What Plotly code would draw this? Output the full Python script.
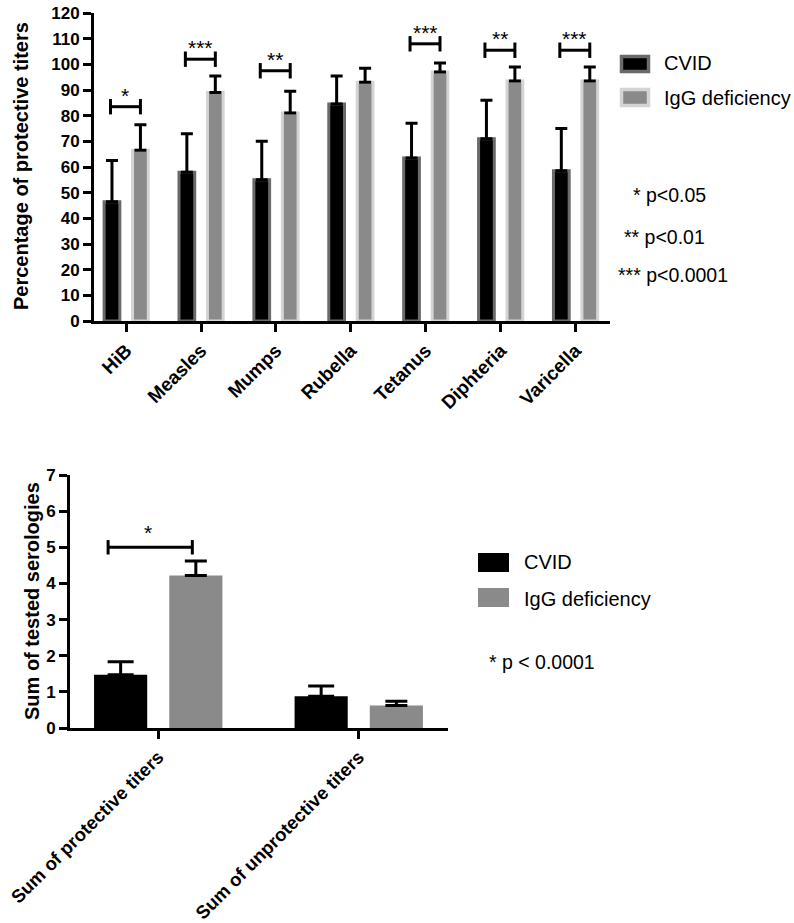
import plotly.graph_objects as go

# ---------------- data ----------------
vaccines = ["HiB", "Measles", "Mumps", "Rubella", "Tetanus", "Diphteria", "Varicella"]
cvid_pct = [46.5, 58, 55, 84.5, 63.5, 71, 58.5]
cvid_pct_err = [16, 15, 15, 11, 13.5, 15, 16.5]
igg_pct = [66.5, 89, 81, 93, 97, 93.5, 93.5]
igg_pct_err = [10, 6.5, 8.5, 5.5, 3.5, 5.5, 5.5]
sig_idx = [0, 1, 2, 4, 5, 6]
sig_height = [83.5, 102, 97.5, 108, 105.5, 105.5]
sig_label = ["*", "***", "**", "***", "**", "***"]
pval_notes = ["* p<0.05", "** p<0.01", "*** p<0.0001"]

sums = ["Sum of protective titers", "Sum of unprotective titers"]
cvid_sum = [1.47, 0.88]
cvid_sum_err = [0.36, 0.28]
igg_sum = [4.22, 0.62]
igg_sum_err = [0.4, 0.12]
sum_sig_idx = [0]
sum_sig_height = [5.0]
sum_sig_label = ["*"]
sum_note = "* p < 0.0001"

groups = ["CVID", "IgG deficiency"]

W, H = 794, 923
FONT = "Liberation Sans, Arial, sans-serif"
BLACK = "#000000"
GRAY = "#8a8a8a"


def px(x):
    return x / W


def py(y):
    return 1 - y / H


fig = go.Figure()

# ---------------- top chart ----------------
n = len(vaccines)
xi = list(range(n))
fig.add_trace(go.Bar(
    x=xi, y=cvid_pct, name=groups[0], width=0.21, offset=-0.295,
    marker=dict(color=BLACK, line=dict(color="#6a6a6a", width=3)),
    error_y=dict(type="data", array=cvid_pct_err, arrayminus=[0] * n, symmetric=False,
                 color=BLACK, thickness=3, width=6),
    xaxis="x", yaxis="y", showlegend=False))
fig.add_trace(go.Bar(
    x=xi, y=igg_pct, name=groups[1], width=0.21, offset=0.085,
    marker=dict(color=GRAY, line=dict(color="#d4d4d4", width=3)),
    error_y=dict(type="data", array=igg_pct_err, arrayminus=[0] * n, symmetric=False,
                 color=BLACK, thickness=3, width=6),
    xaxis="x", yaxis="y", showlegend=False))

bx, by = [], []
cap = 3.0
for i, h in zip(sig_idx, sig_height):
    l, r = i - 0.21, i + 0.19
    bx += [l, l, None, l, r, None, r, r, None]
    by += [h - cap, h + cap, None, h, h, None, h - cap, h + cap, None]
fig.add_trace(go.Scatter(x=bx, y=by, mode="lines", line=dict(color=BLACK, width=3),
                         xaxis="x", yaxis="y", showlegend=False, hoverinfo="skip"))
for i, h, s in zip(sig_idx, sig_height, sig_label):
    fig.add_annotation(x=i - 0.01, y=h, xref="x", yref="y", text=s, showarrow=False,
                       yanchor="bottom", yshift=-2, font=dict(family=FONT, size=21, color=BLACK))

# ---------------- bottom chart ----------------
m = len(sums)
xj = list(range(m))
fig.add_trace(go.Bar(
    x=xj, y=cvid_sum, name=groups[0], width=0.265, offset=-0.32,
    marker=dict(color=BLACK, line=dict(width=0)),
    error_y=dict(type="data", array=cvid_sum_err, arrayminus=[0] * m, symmetric=False,
                 color=BLACK, thickness=3, width=13),
    xaxis="x2", yaxis="y2", showlegend=False))
fig.add_trace(go.Bar(
    x=xj, y=igg_sum, name=groups[1], width=0.265, offset=0.055,
    marker=dict(color=GRAY, line=dict(width=0)),
    error_y=dict(type="data", array=igg_sum_err, arrayminus=[0] * m, symmetric=False,
                 color=BLACK, thickness=3, width=11),
    xaxis="x2", yaxis="y2", showlegend=False))

bx2, by2 = [], []
cap2 = 0.2
for i, h in zip(sum_sig_idx, sum_sig_height):
    l, r = i - 0.25, i + 0.17
    bx2 += [l, l, None, l, r, None, r, r, None]
    by2 += [h - cap2, h + cap2, None, h, h, None, h - cap2, h + cap2, None]
fig.add_trace(go.Scatter(x=bx2, y=by2, mode="lines", line=dict(color=BLACK, width=3),
                         xaxis="x2", yaxis="y2", showlegend=False, hoverinfo="skip"))
for i, h, s in zip(sum_sig_idx, sum_sig_height, sum_sig_label):
    fig.add_annotation(x=i - 0.05, y=h, xref="x2", yref="y2", text=s, showarrow=False,
                       yanchor="bottom", yshift=1, font=dict(family=FONT, size=21, color=BLACK))

# ---------------- axes ----------------
axis_common = dict(showline=True, linecolor=BLACK, linewidth=3, ticks="outside",
                   ticklen=8, tickwidth=3, tickcolor=BLACK, showgrid=False,
                   zeroline=False, automargin=False)

fig.update_layout(
    width=W, height=H, margin=dict(l=0, r=0, t=0, b=0),
    template="none", plot_bgcolor="white", paper_bgcolor="white",
    barmode="overlay",
    font=dict(family=FONT, color=BLACK),
    xaxis=dict(domain=[px(94), px(610)], range=[-0.43, 6.46], tickvals=xi, ticktext=vaccines,
               tickangle=-45, anchor="y",
               tickfont=dict(family=FONT, size=19, weight="bold", color=BLACK),
               **axis_common),
    yaxis=dict(domain=[py(321), py(13)], range=[0, 120], dtick=10, anchor="x",
               tickfont=dict(family=FONT, size=17, weight="bold", color=BLACK),
               **axis_common),
    xaxis2=dict(domain=[px(70), px(448)], range=[-0.44, 1.445], tickvals=xj, ticktext=sums,
                tickangle=-45, anchor="y2",
                tickfont=dict(family=FONT, size=18.5, weight="bold", color=BLACK),
                **axis_common),
    yaxis2=dict(domain=[py(728), py(475)], range=[0, 7], dtick=1, anchor="x2",
                tickfont=dict(family=FONT, size=17, weight="bold", color=BLACK),
                **axis_common),
)

# axis titles
fig.add_annotation(x=px(21), y=py(166), xref="paper", yref="paper", text="Percentage of protective titers",
                   textangle=-90, showarrow=False, xanchor="center", yanchor="middle",
                   font=dict(family=FONT, size=20, weight="bold", color=BLACK))
fig.add_annotation(x=px(32), y=py(601), xref="paper", yref="paper", text="Sum of tested serologies",
                   textangle=-90, showarrow=False, xanchor="center", yanchor="middle",
                   font=dict(family=FONT, size=20, weight="bold", color=BLACK))

# ---------------- legends (manual) ----------------
shapes = []
# top legend
shapes.append(dict(type="rect", xref="paper", yref="paper", x0=px(621.5), x1=px(648.5), y0=py(71.5), y1=py(56.5),
                   fillcolor=BLACK, line=dict(color="#6a6a6a", width=3.5)))
shapes.append(dict(type="rect", xref="paper", yref="paper", x0=px(621.5), x1=px(648.5), y0=py(105.5), y1=py(89.5),
                   fillcolor=GRAY, line=dict(color="#d4d4d4", width=3.5)))
# bottom legend
shapes.append(dict(type="rect", xref="paper", yref="paper", x0=px(478), x1=px(509), y0=py(572), y1=py(553),
                   fillcolor=BLACK, line=dict(width=0)))
shapes.append(dict(type="rect", xref="paper", yref="paper", x0=px(478), x1=px(509), y0=py(607), y1=py(588),
                   fillcolor=GRAY, line=dict(width=0)))
fig.update_layout(shapes=shapes)

for txt, yy in zip(groups, [63, 98]):
    fig.add_annotation(x=px(662), y=py(yy), xref="paper", yref="paper", text=txt, showarrow=False,
                       xanchor="left", yanchor="middle", font=dict(family=FONT, size=20, color=BLACK))
for txt, yy in zip(groups, [562, 599]):
    fig.add_annotation(x=px(522), y=py(yy), xref="paper", yref="paper", text=txt, showarrow=False,
                       xanchor="left", yanchor="middle", font=dict(family=FONT, size=20, color=BLACK))

for txt, xx, yy in zip(pval_notes, [631, 622, 616], [195, 237, 275]):
    fig.add_annotation(x=px(xx), y=py(yy), xref="paper", yref="paper", text=txt, showarrow=False,
                       xanchor="left", yanchor="middle", font=dict(family=FONT, size=19.5, color=BLACK))
fig.add_annotation(x=px(487), y=py(662), xref="paper", yref="paper", text=sum_note, showarrow=False,
                   xanchor="left", yanchor="middle", font=dict(family=FONT, size=19.5, color=BLACK))

fig.write_html("out.html", config={"displayModeBar": False},
               post_script="document.body.style.margin='0px';document.body.style.overflow='hidden';")
